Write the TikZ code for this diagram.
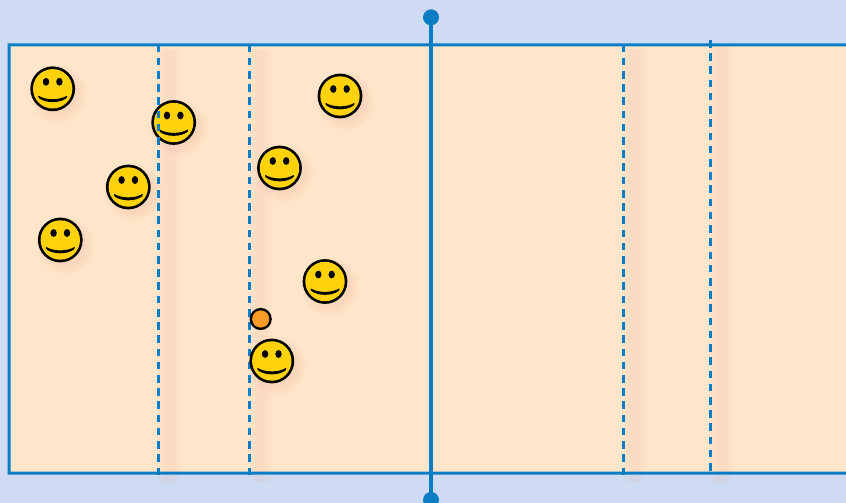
\documentclass[tikz,border=0pt]{standalone}
\definecolor{skyc}{HTML}{CEDBF2}
\definecolor{courtc}{HTML}{FFE5C9}
\definecolor{linec}{HTML}{0A7DC4}
\definecolor{facec}{HTML}{FFD20A}
\definecolor{ballc}{HTML}{F99B27}
\definecolor{shadowc}{HTML}{F0A090}
\newcommand{\dashrule}[2]{%
  \foreach \k in {0,...,32}{%
    \fill[linec] ({#1-1.5},{#2+13.22*\k}) rectangle ({#1+1.5},{#2+13.22*\k+7.6});
  }%
}
\tikzset{
  x=1pt,y=-1pt,
  softline/.style={draw=shadowc,opacity=0.03},
  softdot/.style={fill=shadowc,opacity=0.04,draw=none},
  pics/smiley/.style={code={
    \foreach \r in {29,27,25,23,21}{\fill[softdot] (5,5) circle (\r);}
    \fill[black] (0,0) circle (22.4);
    \fill[facec] (0,0) circle (19.7);
    \fill[black] (-6.7,-7) ellipse (3.2 and 3.9);
    \fill[black] (6.7,-7) ellipse (3.2 and 3.9);
    \fill[black,rounded corners=0.8pt] (-14.6,6.6) .. controls (-7,11.5) and (7,11.5) .. (14.6,6.6)
       -- (14.2,9) .. controls (7,14.6) and (-7,14.6) .. (-14.2,9) -- cycle;
  }}
}
\begin{document}
\begin{tikzpicture}
\useasboundingbox (0,0) rectangle (846,503);
\fill[skyc] (0,0) rectangle (846,503);
\fill[courtc] (9,45) rectangle (846,473);
% soft shadows of the dashed lines
\foreach \xx/\yy in {158.5/45,249.5/45,623.5/45,710.5/41}{
  \foreach \w in {22,17,12,7}{
    \draw[softline,line width=\w pt] (\xx+11,\yy+4) -- (\xx+11,482);
  }
}
% court outline
\fill[linec,even odd rule] (7.5,43.5) rectangle (846,474.5) (10.5,46.5) rectangle (847,471.5);
\dashrule{249.5}{44.5}
\dashrule{623.5}{44.5}
\dashrule{710.5}{40}
\pic at (52.7,88.8) {smiley};
\pic at (173.7,122.5) {smiley};
\pic at (340,96) {smiley};
\pic at (279.5,168) {smiley};
\pic at (128.3,187) {smiley};
\pic at (60.3,240) {smiley};
\pic at (325,281.5) {smiley};
\fill[black] (260.7,319) circle (11.1);
\fill[ballc] (260.7,319) circle (8.6);
\pic at (271.8,361) {smiley};
\dashrule{158.5}{44.5}
\coordinate (nettop) at (431,17.3);
\coordinate (netbot) at (431,500);
\fill[linec] (429,17.3) rectangle (433,500);
\fill[linec] (nettop) circle (8);
\fill[linec] (netbot) circle (8);
\end{tikzpicture}
\end{document}
